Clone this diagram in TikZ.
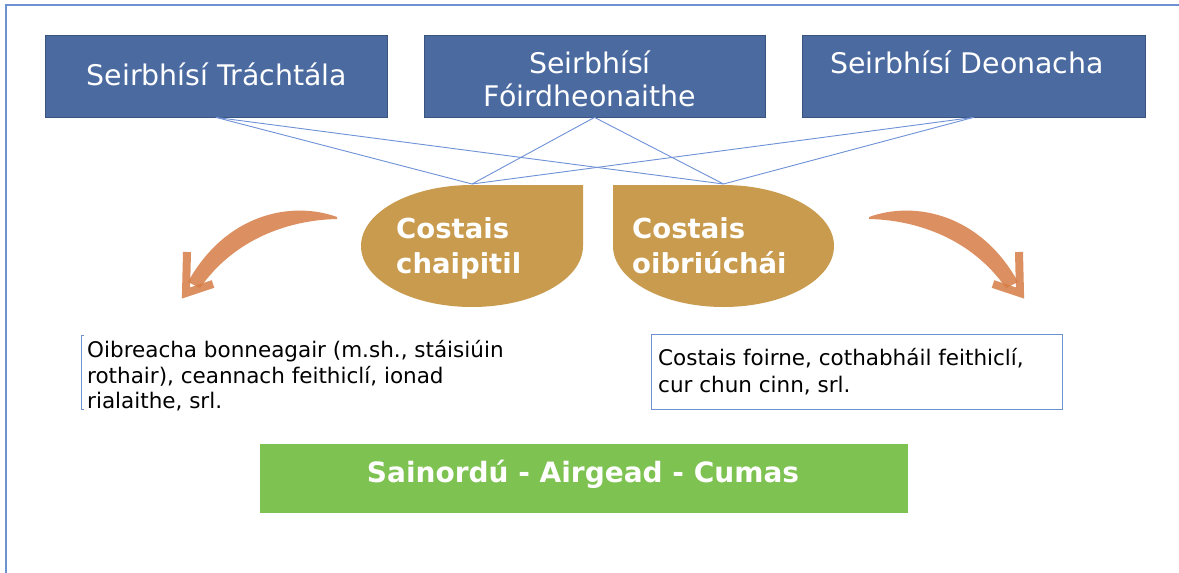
\documentclass[tikz,border=0pt]{standalone}
\usepackage{fontspec}
\setmainfont{DejaVu Sans}
\definecolor{boxblue}{RGB}{74,106,160}
\definecolor{boxedge}{RGB}{58,84,128}
\definecolor{linkblue}{RGB}{110,145,215}
\definecolor{tear}{RGB}{200,155,78}
\definecolor{brush}{RGB}{214,125,70}
\definecolor{mandgreen}{RGB}{126,194,82}
\definecolor{framecol}{RGB}{110,145,210}
\begin{document}
\begin{tikzpicture}[x=1pt,y=1pt,
  svcbox/.style={draw=boxedge, line width=0.8, fill=boxblue, inner sep=0, minimum height=82},
  svctext/.style={text=white, inner sep=0, font=\fontsize{28.4}{33}\selectfont},
  tagtext/.style={text=white, inner sep=0, anchor=base west, font=\bfseries\fontsize{27.5}{33}\selectfont},
  bodytext/.style={text=black, inner sep=0, anchor=base west, font=\fontsize{21.5}{25.5}\selectfont},
  link/.style={draw=linkblue, line width=0.9},
  brushfill/.style={fill=brush, opacity=0.85},
  brushhead/.style={draw=brush, opacity=0.85, line width=8}]
\useasboundingbox (0,0) rectangle (1179,-573);
\fill[white] (0,0) rectangle (1179,-573);
\draw[framecol, line width=2] (6,-573) -- (6,-5) -- (1179,-5);

% service boxes
\node[svcbox, minimum width=342] (b1) at (216,-76) {};
\node[svcbox, minimum width=341] (b2) at (594.5,-76) {};
\node[svcbox, minimum width=343] (b3) at (973.5,-76) {};
\node[svctext, anchor=base] (t1) at (217,-85) {Seirbhísí Tráchtála};
\node[svctext, anchor=base] (t2a) at (590,-73) {Seirbhísí};
\node[svctext, anchor=base] (t2b) at (590,-106) {Fóirdheonaithe};
\node[svctext, anchor=base] (t3) at (967,-73) {Seirbhísí Deonacha};

% teardrops
\fill[tear] (583,-185) -- (472,-185)
  arc[start angle=90, end angle=270, x radius=111, y radius=61]
  arc[start angle=270, end angle=360, x radius=111, y radius=61] -- cycle;
\fill[tear] (613,-185) -- (723.5,-185)
  arc[start angle=90, end angle=-90, x radius=110.5, y radius=61]
  arc[start angle=270, end angle=180, x radius=110.5, y radius=61] -- cycle;
\coordinate (c1) at (472,-184);
\coordinate (c2) at (723.5,-184);
\node[tagtext] (k1a) at (396,-238) {Costais};
\node[tagtext] (k1b) at (396,-273) {chaipitil};
\node[tagtext] (k2a) at (632,-238) {Costais};
\node[tagtext] (k2b) at (632,-273) {oibriúchái};

% connectors
\draw[link] (b1.south) -- (c1);
\draw[link] (b1.south) -- (c2);
\draw[link] (b2.south) -- (c1);
\draw[link] (b2.south) -- (c2);
\draw[link] (b3.south) -- (c1);
\draw[link] (b3.south) -- (c2);

% brush arrows
\fill[brushfill] (337,-217) .. controls (290,-200) and (225,-215) .. (188,-282)
  -- (200,-288) .. controls (235,-238) and (290,-220) .. (337,-219) -- cycle;
\draw[brushhead] (187,-252) -- (186,-293) -- (213,-284);
\fill[brushfill] (869,-217) .. controls (916,-200) and (981,-215) .. (1018,-282)
  -- (1006,-288) .. controls (971,-238) and (916,-220) .. (869,-219) -- cycle;
\draw[brushhead] (1019,-252) -- (1020,-293) -- (993,-284);

% left text
\draw[framecol, line width=0.8] (84,-335) -- (81,-335) -- (81,-409) -- (84,-409);
\node[bodytext] (l1) at (87,-357) {Oibreacha bonneagair (m.sh., stáisiúin};
\node[bodytext] (l2) at (87,-383) {rothair), ceannach feithiclí, ionad};
\node[bodytext] (l3) at (87,-408) {rialaithe, srl.};

% right text box
\node[draw=framecol, line width=0.9, inner sep=0, minimum width=411, minimum height=75] (rb) at (856.5,-371.5) {};
\node[bodytext] (r1) at (658,-365) {Costais foirne, cothabháil feithiclí,};
\node[bodytext] (r2) at (658,-392) {cur chun cinn, srl.};

% green bar
\node[fill=mandgreen, inner sep=0, minimum width=648, minimum height=69] (g) at (584,-478.5) {};
\node[text=white, inner sep=0, anchor=base, font=\bfseries\fontsize{28}{33}\selectfont] (gt) at (583,-482) {Sainordú - Airgead - Cumas};
\end{tikzpicture}
\end{document}
